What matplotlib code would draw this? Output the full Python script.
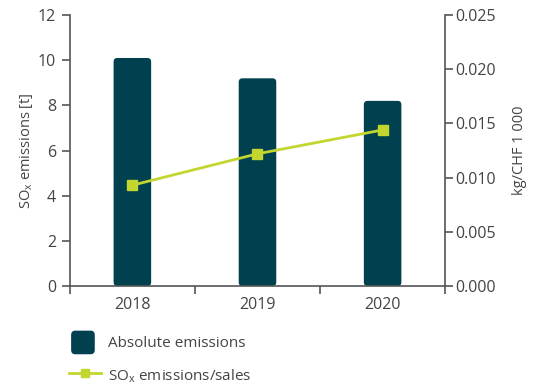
import matplotlib
matplotlib.use("Agg")
import matplotlib.pyplot as plt
from matplotlib.lines import Line2D
from matplotlib.patches import Patch, FancyBboxPatch
from matplotlib.legend_handler import HandlerPatch

years = ["2018", "2019", "2020"]
absolute_t = [10.1, 9.2, 8.2]
intensity = [0.0093, 0.0122, 0.0144]
left_ticks = [0, 2, 4, 6, 8, 10, 12]
right_ticks = [0.000, 0.005, 0.010, 0.015, 0.020, 0.025]

plt.rcParams['font.family'] = ['Open Sans', 'DejaVu Sans']
plt.rcParams['mathtext.fontset'] = 'custom'
plt.rcParams['mathtext.rm'] = 'Open Sans'

BAR = "#00404f"
LINE = "#c3d62f"
AX = "#555555"
TXT = "#444444"

fig = plt.figure(figsize=(5.37, 3.87), dpi=100)
ax = fig.add_axes([0.130, 0.261, 0.699, 0.700])
ax2 = ax.twinx()

x = list(range(len(years)))
bars = ax.bar(x, absolute_t, width=0.3, color=BAR, zorder=2)
for b in bars:
    x0, y0 = b.get_x(), b.get_y()
    w, h = b.get_width(), b.get_height()
    b.set_visible(False)
    fb = FancyBboxPatch((x0, y0), w, h, boxstyle="round,pad=0,rounding_size=0.03",
                        mutation_aspect=5.5, facecolor=BAR, edgecolor='none', zorder=2)
    ax.add_patch(fb)

ax.set_xlim(-0.5, 2.5)
ax.set_ylim(0, 12)
ax.set_yticks(left_ticks)
ax.set_xticks([-0.5, 0.5, 1.5, 2.5])
ax.set_xticklabels([])
ax.set_xticks(x, minor=True)
ax.set_xticklabels(years, minor=True)
ax.tick_params(axis='x', which='minor', length=0, pad=8, labelsize=11.5, colors=TXT)
ax.tick_params(axis='x', which='major', length=6, width=1.2, color=AX, direction='out')
ax.tick_params(axis='y', length=6, width=1.2, color=AX, labelsize=11.5, labelcolor=TXT, direction='out', pad=4)
ax.set_ylabel("SO$_{\\mathrm{x}}$ emissions [t]", fontsize=10.5, color=TXT, labelpad=2)

ax2.plot(x, intensity, color=LINE, lw=2, marker='s', markersize=7, zorder=3)
ax2.set_ylim(0, 0.025)
ax2.set_yticks(right_ticks)
ax2.set_yticklabels([f"{v:.3f}" for v in right_ticks])
ax2.tick_params(axis='y', length=6, width=1.2, color=AX, labelsize=11.5, labelcolor=TXT, direction='out', pad=1)
ax2.set_ylabel("kg/CHF 1 000", fontsize=10.5, color=TXT, labelpad=12)

for a in (ax, ax2):
    a.spines['top'].set_visible(False)
    for s in ('left', 'right', 'bottom'):
        a.spines[s].set_color(AX)
        a.spines[s].set_linewidth(1.2)
ax.spines['right'].set_visible(False)
ax2.spines['left'].set_visible(False)
ax2.spines['bottom'].set_visible(False)


def square_patch(legend, orig_handle, xdescent, ydescent, width, height, fontsize):
    s = 16
    cx = -xdescent + 2 + s / 2
    cy = -ydescent + height / 2
    return FancyBboxPatch((cx - s / 2, cy - s / 2), s, s,
                          boxstyle="round,pad=0,rounding_size=2.5")


handles = [Patch(facecolor=BAR, edgecolor=BAR),
           Line2D([0], [0], color=LINE, lw=2, marker='s', markersize=6)]
labels = ["Absolute emissions", "SO$_{\\mathrm{x}}$ emissions/sales"]
fig.legend(handles, labels, loc='upper left', bbox_to_anchor=(0.103, 0.176),
           frameon=False, fontsize=11, labelcolor=TXT, handlelength=2.1,
           handleheight=1.6, handletextpad=0.45, labelspacing=0.85,
           handler_map={Patch: HandlerPatch(patch_func=square_patch)})

fig.savefig("out.png", dpi=100)
